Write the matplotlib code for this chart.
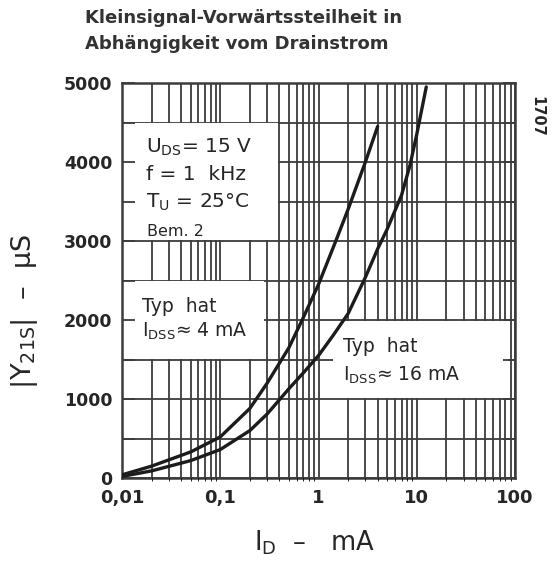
import matplotlib
matplotlib.use("Agg")
import matplotlib.pyplot as plt
from matplotlib.patches import Rectangle
from matplotlib.ticker import LogLocator, MultipleLocator, NullFormatter

# ---------------- data ----------------
x_ticks = [0.01, 0.1, 1, 10, 100]
x_tick_labels = ["0,01", "0,1", "1", "10", "100"]
y_ticks = [0, 1000, 2000, 3000, 4000, 5000]
y_tick_labels = ["0", "1000", "2000", "3000", "4000", "5000"]

# curve "Typ hat I_DSS ~ 4 mA"
id_a = [0.01, 0.02, 0.05, 0.1, 0.2, 0.3, 0.5, 0.7, 1, 1.5, 2, 3, 4]
gm_a = [40, 150, 330, 520, 880, 1200, 1650, 2030, 2450, 3000, 3400, 4000, 4450]

# curve "Typ hat I_DSS ~ 16 mA"
id_b = [0.01, 0.02, 0.05, 0.1, 0.2, 0.3, 0.5, 0.7, 1, 1.4, 2, 3, 4, 5, 7, 8.5, 10, 12.5]
gm_b = [20, 90, 220, 360, 600, 810, 1130, 1330, 1550, 1800, 2080, 2540, 2900,
        3150, 3580, 3950, 4350, 4950]

title_lines = ["Kleinsignal-Vorwärtssteilheit in", "Abhängigkeit vom Drainstrom"]

# ---------------- style ----------------
W, H = 552, 562
ink = "#262626"
grid_c = "#3c3c3c"
plt.rcParams["font.family"] = ["DejaVu Sans"]

fig = plt.figure(figsize=(W / 100, H / 100), dpi=100)
L, R, T, B = 122, 515, 83, 478
pos = [L / W, 1 - B / H, (R - L) / W, (B - T) / H]
ax = fig.add_axes(pos)
ax.set_xscale("log")
ax.set_xlim(0.01, 100)
ax.set_ylim(0, 5000)
ax.set_xticks(x_ticks)
ax.set_xticklabels(x_tick_labels)
ax.xaxis.set_minor_locator(LogLocator(base=10, subs=range(2, 10)))
ax.xaxis.set_minor_formatter(NullFormatter())
ax.set_yticks(y_ticks)
ax.set_yticklabels(y_tick_labels)
ax.yaxis.set_minor_locator(MultipleLocator(500))
ax.yaxis.set_minor_formatter(NullFormatter())
ax.set_axisbelow(True)
ax.grid(True, which="both", color=grid_c, lw=1.3)
ax.tick_params(which="both", length=0)
ax.tick_params(axis="x", pad=8, labelsize=13, labelcolor=ink)
ax.tick_params(axis="y", pad=7, labelsize=12.5, labelcolor=ink)
for lab in ax.get_xticklabels() + ax.get_yticklabels():
    lab.set_fontweight("bold")
for s in ax.spines.values():
    s.set_linewidth(1.8)
    s.set_color(grid_c)
    s.set_zorder(5)

# white label boxes that hide the grid (slightly inset so border grid lines stay)
boxes = [((0.01, 3000), 0.39, 4500), ((0.01, 1500), 0.28, 2500), ((1.4, 1000), 85, 2000)]
for (x0, y0), x1, y1 in boxes:
    y0i, y1i = y0 + 12, y1 - 12
    ax.add_patch(Rectangle((x0, y0i), x1 - x0, y1i - y0i, facecolor="white",
                           edgecolor="none", zorder=1))

# overlay axes for inward tick stubs and the curves
ax2 = fig.add_axes(pos, frameon=False, zorder=2)
ax2.set_xscale("log")
ax2.set_xlim(0.01, 100)
ax2.set_ylim(0, 5000)
ax2.set_xticks([])
ax2.yaxis.set_major_locator(MultipleLocator(500))
ax2.tick_params(axis="y", direction="in", length=9, width=1.3, color=grid_c,
                left=True, right=True, labelleft=False, labelright=False)
ax2.patch.set_alpha(0)

ax2.plot(id_a, gm_a, color="#1c1c1c", lw=2.4, solid_capstyle="round",
         solid_joinstyle="round", zorder=3)
ax2.plot(id_b, gm_b, color="#1c1c1c", lw=2.4, solid_capstyle="round",
         solid_joinstyle="round", zorder=3)

def axfrac(px, py):
    return (px - L) / (R - L), (B - py) / (B - T)

def put(px, py, s, size, **kw):
    x, y = axfrac(px, py)
    ax2.text(x, y, s, transform=ax2.transAxes, fontsize=size, color=ink,
             ha="left", va="center", zorder=6, **kw)

put(146, 147, r"U$_{\mathregular{DS}}$= 15 V", 14.5)
put(146, 174, "f = 1  kHz", 14.5)
put(146, 202, r"T$_{\mathregular{U}}$ = 25°C", 14.5)
put(147, 232, "Bem. 2", 11.5)
put(142, 307, "Typ  hat", 13.5)
put(142, 331, r"I$_{\mathregular{DSS}}$≈ 4 mA", 13.5)
put(343, 347, "Typ  hat", 13.5)
put(343, 375, r"I$_{\mathregular{DSS}}$≈ 16 mA", 13.5)

# axis titles
fig.text(314 / W, 1 - 543 / H, r"I$_{\mathregular{D}}$  –   mA", fontsize=18.5, color=ink,
         ha="center", va="center")
fig.text(25 / W, 1 - 311 / H, r"|Y$_{\mathregular{21S}}$|  –  µS", fontsize=19.5, color=ink,
         ha="center", va="center", rotation=90)
fig.text(537 / W, 1 - 116 / H, "1707", fontsize=10.5, color=ink, fontweight="bold",
         ha="center", va="center", rotation=-90)

# title
fig.text(85 / W, 1 - 18 / H, title_lines[0], fontsize=13, fontweight="bold",
         color="#333333", ha="left", va="center")
fig.text(85 / W, 1 - 44 / H, title_lines[1], fontsize=13, fontweight="bold",
         color="#333333", ha="left", va="center")

fig.savefig("out.png", dpi=100, facecolor="white")
